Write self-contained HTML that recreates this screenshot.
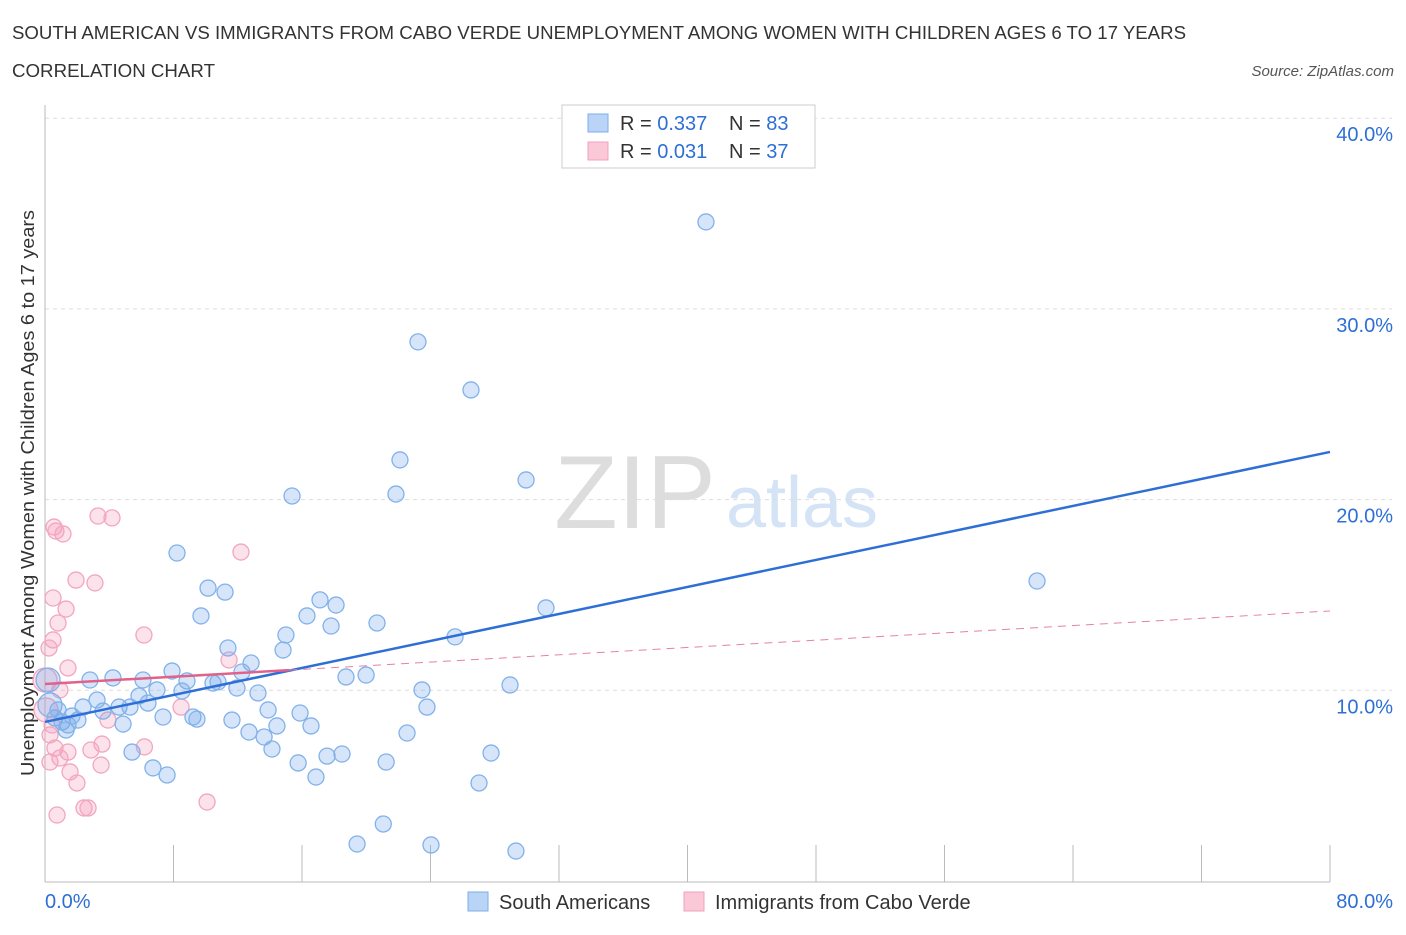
<!DOCTYPE html>
<html><head><meta charset="utf-8"><style>
body{margin:0;background:#fff;font-family:"Liberation Sans",sans-serif;}
svg text{font-family:"Liberation Sans",sans-serif;}
</style></head><body>
<svg id="c" width="1406" height="930" viewBox="0 0 1406 930">
<text x="12" y="39" font-size="18" textLength="1174" lengthAdjust="spacingAndGlyphs" fill="#333">SOUTH AMERICAN VS IMMIGRANTS FROM CABO VERDE UNEMPLOYMENT AMONG WOMEN WITH CHILDREN AGES 6 TO 17 YEARS</text>
<text x="12" y="77" font-size="18" textLength="203" lengthAdjust="spacingAndGlyphs" fill="#333">CORRELATION CHART</text>
<text x="1394" y="76" font-size="15" fill="#555" font-style="italic" text-anchor="end">Source: ZipAtlas.com</text>
<text x="635" y="528" font-size="104" fill="#ddd" font-family="Liberation Serif,serif" text-anchor="middle">ZIP</text>
<text x="802" y="527" font-size="72" fill="#d4e3f5" text-anchor="middle">atlas</text>
<g id="grid"></g>
<text transform="translate(34,493) rotate(-90)" font-size="18" textLength="566" lengthAdjust="spacingAndGlyphs" fill="#333" text-anchor="middle">Unemployment Among Women with Children Ages 6 to 17 years</text>
<g id="marks"></g>
<g>
<rect x="562" y="105" width="253" height="63" fill="#fff" stroke="#ccc"/>
<rect x="588" y="114" width="20" height="18" fill="#b9d4f6" stroke="#7aaee8"/>
<rect x="588" y="142" width="20" height="18" fill="#fbc8d8" stroke="#f0a0bc"/>
<text x="620" y="130" font-size="20" fill="#333">R = <tspan fill="#2d6fd6">0.337</tspan></text>
<text x="729" y="130" font-size="20" fill="#333">N = <tspan fill="#2d6fd6">83</tspan></text>
<text x="620" y="158" font-size="20" fill="#333">R = <tspan fill="#2d6fd6">0.031</tspan></text>
<text x="729" y="158" font-size="20" fill="#333">N = <tspan fill="#2d6fd6">37</tspan></text>
</g>
<g>
<rect x="468" y="892" width="20" height="19" fill="#b9d4f6" stroke="#7aaee8"/>
<text x="499" y="909" font-size="20" fill="#333">South Americans</text>
<rect x="684" y="892" width="20" height="19" fill="#fbc8d8" stroke="#f0a0bc"/>
<text x="715" y="909" font-size="20" fill="#333">Immigrants from Cabo Verde</text>
</g>
</svg>
<script>
const blueX=[41.15,23.22,26.52,22.10,21.85,29.95,15.38,61.76,8.22,10.15,11.21,9.71,17.12,18.12,16.31,17.81,20.67,31.19,25.53,15.00,11.39,14.82,12.83,7.91,2.80,4.23,6.10,8.84,10.46,10.77,12.26,18.74,19.99,28.95,23.47,11.95,6.97,8.53,13.26,5.85,3.24,6.41,4.61,5.29,3.61,2.37,23.78,13.89,15.88,9.21,9.46,7.35,11.64,2.05,4.86,14.44,16.56,12.70,22.54,13.64,14.13,5.42,17.56,18.49,27.77,15.76,21.24,6.72,7.60,16.87,27.02,21.06,19.43,24.03,29.32,0.31,0.62,1.06,1.43,1.68,0.81,0.19,1.31];
const blueY=[34.56,28.27,25.75,22.08,20.29,21.03,20.19,15.73,17.20,15.36,15.15,13.90,14.74,14.47,13.90,13.37,13.53,14.32,12.80,12.90,12.22,12.11,11.43,11.01,10.54,10.65,10.54,10.49,10.38,10.44,10.96,10.70,10.80,10.28,10.02,10.12,10.02,9.96,9.86,9.70,9.49,9.33,9.12,9.12,8.91,9.12,9.12,8.97,8.81,8.60,8.49,8.60,8.44,8.44,8.23,8.13,8.13,7.81,7.76,7.55,6.92,6.76,6.55,6.66,6.71,6.19,6.24,5.93,5.56,5.45,5.14,2.99,1.94,1.89,1.57,9.23,8.55,8.34,8.18,8.65,8.97,10.54,7.92];
const pinkX=[0.56,0.68,1.12,3.30,4.17,12.20,1.93,3.11,0.50,1.31,0.81,6.16,0.50,0.25,1.43,11.46,0.93,8.47,3.92,0.31,3.55,0.62,1.43,2.86,6.19,0.93,0.31,3.49,1.56,1.99,2.43,2.68,0.75,10.09,0.0,0.06,0.44];
const pinkY=[18.56,18.35,18.20,19.14,19.04,17.25,15.78,15.63,14.84,14.26,13.53,12.90,12.64,12.22,11.17,11.59,10.02,9.12,8.44,7.66,7.18,6.97,6.76,6.87,7.03,6.45,6.24,6.08,5.72,5.14,3.83,3.83,3.46,4.14,10.54,8.97,8.18];
const blueTrend=[8.34,22.50];
const pinkTrend=[10.33,14.16];
const pinkSolidEnd=15.2;
const xTicks=[0,8,16,24,32,40,48,56,64,72,80];
const yTicks=[10,20,30,40];
const yTickLabels=["10.0%","20.0%","30.0%","40.0%"];
const xTickLabels=["0.0%","80.0%"];
const NS="http://www.w3.org/2000/svg";
const sx=v=>45+v*1285/80, sy=v=>881-v*19.07;
function mk(t,a,p){const e=document.createElementNS(NS,t);for(const k in a)e.setAttribute(k,a[k]);p.appendChild(e);return e;}
const g=document.getElementById('grid'),m=document.getElementById('marks');
yTicks.forEach((t,i)=>{
 const l=mk('line',{x1:45,x2:1392,y1:sy(t),y2:sy(t),stroke:'#ddd','stroke-dasharray':'4,4'},g);
 
 
 const tx=mk('text',{x:1393,y:sy(t)+23,'font-size':20,fill:'#2d6fd6','text-anchor':'end'},g);tx.textContent=yTickLabels[i];
 
 
});
const ax=mk('line',{x1:45,x2:1330,y1:882,y2:882,stroke:'#bbb'},g);


const ay=mk('line',{x1:45,x2:45,y1:105,y2:882,stroke:'#bbb'},g);


xTicks.forEach(t=>{const l=mk('line',{x1:sx(t),x2:sx(t),y1:845,y2:882,stroke:'#bbb'},g);
 
 });
const xl0=mk('text',{x:45,y:908,'font-size':20,fill:'#2d6fd6'},g);xl0.textContent=xTickLabels[0];


const xl1=mk('text',{x:1393,y:908,'font-size':20,fill:'#2d6fd6','text-anchor':'end'},g);xl1.textContent=xTickLabels[1];


pinkX.forEach((x,i)=>{const c=mk('circle',{cx:sx(x),cy:sy(pinkY[i]),r:(x<0.1?12:8),fill:'rgba(245,160,190,0.3)',stroke:'#f2a6c0','stroke-width':1.3},m);
 
 });
blueX.forEach((x,i)=>{const c=mk('circle',{cx:sx(x),cy:sy(blueY[i]),r:(x<0.35?12:8),fill:'rgba(120,170,235,0.3)',stroke:'#82b2ea','stroke-width':1.3},m);
 
 });
const bl=mk('line',{x1:sx(0),y1:sy(blueTrend[0]),x2:sx(80),y2:sy(blueTrend[1]),stroke:'#2d6fd6','stroke-width':2.5},m);


const pe=pinkTrend[0]+(pinkTrend[1]-pinkTrend[0])*pinkSolidEnd/80;
const pd=mk('line',{x1:sx(pinkSolidEnd),y1:sy(pe),x2:sx(80),y2:sy(pinkTrend[1]),stroke:'#e8819f','stroke-width':1,'stroke-dasharray':'8,6'},m);


const ps=mk('line',{x1:sx(0),y1:sy(pinkTrend[0]),x2:sx(pinkSolidEnd),y2:sy(pe),stroke:'#e0628a','stroke-width':2.5},m);


</script>
</body></html>
